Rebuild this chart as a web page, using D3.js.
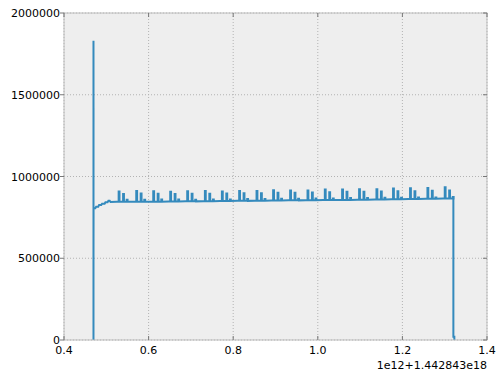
<!DOCTYPE html>
<html>
<head>
<meta charset="utf-8">
<script src="https://cdn.jsdelivr.net/npm/d3@7"></script>
<style>
  body { margin: 0; background: #fff; }
  text { font-family: "DejaVu Sans", sans-serif; }
</style>
</head>
<body>
<div id="chart"></div>
<script>
// opening burst, all near the same timestamp (x in units of 1e12 after offset)
const startX = [0.4697, 0.4697, 0.4698, 0.4698, 0.4697, 0.4698, 0.4697, 0.4698, 0.4699, 0.4740, 0.4760, 0.4810, 0.4830, 0.4880, 0.4900, 0.4960, 0.4980, 0.5030, 0.5050, 0.5080, 0.5100];
const startY = [0, 1830000, 1330000, 1420000, 310000, 650000, 430000, 620000, 806000, 806000, 815000, 815000, 826000, 826000, 834000, 834000, 842000, 842000, 851000, 851000, 844000];

// repeating spike pairs: time of first spike, its height, second spike height, small bump, base level
const spikeT = [0.5292, 0.5708, 0.6110, 0.6511, 0.6913, 0.7331, 0.7733, 0.8141, 0.8552, 0.8944,
                0.9346, 0.9757, 1.0166, 1.0575, 1.0976, 1.1387, 1.1779, 1.2181, 1.2592, 1.3001];
const spikeA = [908000, 912000, 910000, 906000, 910000, 912000, 908000, 912000, 912000, 916000,
                914000, 914000, 920000, 920000, 922000, 922000, 926000, 928000, 930000, 934000];
const spikeB = [893000, 896000, 895000, 893000, 895000, 895000, 896000, 898000, 898000, 900000,
                900000, 902000, 904000, 906000, 906000, 908000, 910000, 910000, 913000, 915000];
const bumpY  = [858000, 858000, 860000, 860000, 858000, 860000, 860000, 862000, 862000, 864000,
                864000, 866000, 866000, 868000, 868000, 870000, 870000, 872000, 872000, 874000];
const baseY  = [845000, 846000, 846000, 847000, 848000, 849000, 850000, 851000, 852000, 853000,
                854000, 855000, 856000, 857000, 858000, 859000, 861000, 862000, 864000, 866000];

// closing drop
const endX = [1.3205, 1.3205, 1.3228, 1.3228];
const endY = [866000, 20000, 20000, 0];

const xTicks = [0.4, 0.6, 0.8, 1.0, 1.2, 1.4];
const yTicks = [0, 500000, 1000000, 1500000, 2000000];
const offsetLabel = "1e12+1.442843e18";

const W = 498, H = 378;
const margin = { top: 13, right: 11, bottom: 38, left: 64 };
const width = W - margin.left - margin.right,
      height = H - margin.top - margin.bottom;

const svg = d3.select('#chart')
    .append('svg')
    .attr('width', W)
    .attr('height', H);

const g = svg.append('g')
    .attr('transform', `translate(${margin.left}, ${margin.top})`);

const x = d3.scaleLinear().domain([0.4, 1.4]).range([0, width]);
const y = d3.scaleLinear().domain([0, 2000000]).range([height, 0]);

g.append('rect')
    .attr('width', width)
    .attr('height', height)
    .attr('fill', '#eeeeee');

// grid
g.selectAll('.vgrid')
    .data(xTicks)
    .enter().append('line')
    .attr('x1', d => x(d)).attr('x2', d => x(d))
    .attr('y1', 0).attr('y2', height)
    .attr('stroke', '#b2b2b2')
    .attr('stroke-dasharray', '1,2');
g.selectAll('.hgrid')
    .data(yTicks)
    .enter().append('line')
    .attr('y1', d => y(d)).attr('y2', d => y(d))
    .attr('x1', 0).attr('x2', width)
    .attr('stroke', '#b2b2b2')
    .attr('stroke-dasharray', '1,2');

// build the series
const points = [];
startX.forEach((t, i) => points.push([t, startY[i]]));
spikeT.forEach((t, i) => {
    const b = baseY[i];
    points.push([t - 0.004, b]);
    points.push([t, b], [t, spikeA[i]], [t + 0.002, spikeA[i]], [t + 0.002, b]);
    points.push([t + 0.0105, b], [t + 0.0105, spikeB[i]], [t + 0.0125, spikeB[i]], [t + 0.0125, b]);
    points.push([t + 0.019, b], [t + 0.019, bumpY[i]], [t + 0.021, bumpY[i]], [t + 0.021, b]);
});
endX.forEach((t, i) => points.push([t, endY[i]]));

const line = d3.line()
    .x(d => x(d[0]))
    .y(d => y(d[1]));

g.append('path')
    .datum(points)
    .attr('d', line)
    .attr('fill', 'none')
    .attr('stroke', '#348ABD')
    .attr('stroke-width', 2);

// frame
g.append('rect')
    .attr('width', width)
    .attr('height', height)
    .attr('fill', 'none')
    .attr('stroke', '#bcbcbc')
    .attr('stroke-width', 1);

// ticks
const tickColor = '#777';
g.selectAll('.xt')
    .data(xTicks)
    .enter().append('g')
    .each(function(d) {
        const s = d3.select(this);
        s.append('line').attr('x1', x(d)).attr('x2', x(d)).attr('y1', height).attr('y2', height - 4).attr('stroke', tickColor);
        s.append('line').attr('x1', x(d)).attr('x2', x(d)).attr('y1', 0).attr('y2', 4).attr('stroke', tickColor);
    });
g.selectAll('.yt')
    .data(yTicks)
    .enter().append('g')
    .each(function(d) {
        const s = d3.select(this);
        s.append('line').attr('x1', 0).attr('x2', -4).attr('y1', y(d)).attr('y2', y(d)).attr('stroke', tickColor);
        s.append('line').attr('x1', width).attr('x2', width - 4).attr('y1', y(d)).attr('y2', y(d)).attr('stroke', tickColor);
    });

// tick labels
g.selectAll('.xl')
    .data(xTicks)
    .enter().append('text')
    .attr('x', d => x(d))
    .attr('y', height + 14)
    .attr('text-anchor', 'middle')
    .style('font-size', '11px')
    .text(d => d3.format('.1f')(d));
g.selectAll('.yl')
    .data(yTicks)
    .enter().append('text')
    .attr('x', -4)
    .attr('y', d => y(d) + 4)
    .attr('text-anchor', 'end')
    .style('font-size', '11px')
    .text(d => d);

g.append('text')
    .attr('x', width)
    .attr('y', height + 29)
    .attr('text-anchor', 'end')
    .style('font-size', '11px')
    .text(offsetLabel);
</script>
</body>
</html>
